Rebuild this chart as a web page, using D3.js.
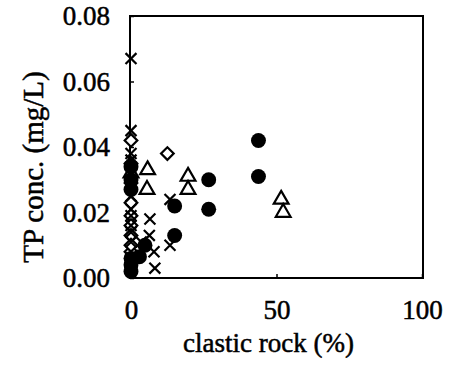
<!DOCTYPE html>
<html>
<head>
<meta charset="utf-8">
<script src="https://cdn.jsdelivr.net/npm/d3@7"></script>
<style>
  body { margin: 0; background: #fff; }
  svg text { font-family: "Liberation Serif", "Times New Roman", serif; fill: #000; stroke: #000; stroke-width: 0.5px; }
</style>
</head>
<body>
<div id="chart"></div>
<script>
// clastic rock (%) vs TP conc. (mg/L), one pair of arrays per marker type
var crossX = [0, 0, 0, 0, 0, 0, 0, 0, 0, 0, 0, 0, 0, 6.5, 6.3, 7.9, 8.2, 13.4, 13.4, 3.5];
var crossY = [0.067, 0.045, 0.038, 0.036, 0.032, 0.028, 0.025, 0.021, 0.016, 0.011, 0.019, 0.006, 0.014, 0.018, 0.013, 0.008, 0.003, 0.024, 0.010, 0.011];

var diamondX = [0, 0, 0, 0, 0, 0, 0, 0, 0, 12.5];
var diamondY = [0.042, 0.029, 0.023, 0.019, 0.016, 0.013, 0.008, 0.035, 0.010, 0.038];

var triangleX = [0, 5.7, 5.5, 19.6, 19.6, 51.6, 52.3];
var triangleY = [0.032, 0.033, 0.027, 0.031, 0.027, 0.024, 0.020];

var circleX = [0, 0, 0, 0, 0, 0, 2.9, 4.8, 15, 15, 26.7, 26.7, 43.8, 43.8];
var circleY = [0.034, 0.030, 0.006, 0.004, 0.002, 0.027, 0.0065, 0.010, 0.022, 0.013, 0.030, 0.021, 0.042, 0.031];

var xTicks = [0, 50, 100];
var yTicks = [0, 0.02, 0.04, 0.06, 0.08];

var margin = {top: 16, right: 29, bottom: 92, left: 130},
    width = 452 - margin.left - margin.right,
    height = 370 - margin.top - margin.bottom;

var svg = d3.select("#chart").append("svg")
    .attr("width", 452)
    .attr("height", 370)
    .append("g")
    .attr("transform", "translate(" + margin.left + "," + margin.top + ")");

var x = d3.scaleLinear().domain([0, 100]).range([1, width - 1]);
var y = d3.scaleLinear().domain([0, 0.08]).range([height, 0]);

// frame
svg.append("rect")
    .attr("width", width)
    .attr("height", height)
    .attr("fill", "none")
    .attr("stroke", "#000")
    .attr("stroke-width", 2);

var xAxis = svg.append("g")
    .attr("transform", "translate(0," + height + ")")
    .call(d3.axisBottom(x).tickValues(xTicks).tickSize(-4).tickPadding(22).tickFormat(d3.format("d")));

var yAxis = svg.append("g")
    .call(d3.axisLeft(y).tickValues(yTicks).tickSize(-4).tickPadding(20).tickFormat(d3.format(".2f")));

[xAxis, yAxis].forEach(function (a) {
    a.select(".domain").remove();
    a.attr("font-family", null);
    a.selectAll("line").attr("stroke", "#000").attr("stroke-width", 1.5);
    a.selectAll("text").style("font-size", "27px");
});

svg.append("text")
    .attr("x", width / 2 - 8)
    .attr("y", height + 74)
    .attr("text-anchor", "middle")
    .style("font-size", "27px")
    .text("clastic rock (%)");

svg.append("text")
    .attr("transform", "translate(-87," + (height / 2 + 20) + ") rotate(-90)")
    .attr("text-anchor", "middle")
    .style("font-size", "29px")
    .text("TP conc. (mg/L)");

// x-shaped marker, drawn as a d3.symbol type
var crossType = {
    draw: function (ctx, size) {
        var r = Math.sqrt(size) / 2;
        ctx.moveTo(-r, -r); ctx.lineTo(r, r);
        ctx.moveTo(r, -r); ctx.lineTo(-r, r);
    }
};

function pts(xs, ys) {
    return xs.map(function (v, i) { return {x: v, y: ys[i]}; });
}

function plot(data, type, size, fill, strokeW, rot) {
    svg.append("g").selectAll("path")
        .data(data)
        .enter().append("path")
        .attr("d", d3.symbol().type(type).size(size))
        .attr("transform", function (d) {
            return "translate(" + x(d.x) + "," + y(d.y) + ")" + (rot ? " rotate(" + rot + ")" : "");
        })
        .attr("fill", fill)
        .attr("stroke", "#000")
        .attr("stroke-width", strokeW);
}

plot(pts(diamondX, diamondY), d3.symbolSquare, 80, "#fff", 2.2, 45);
plot(pts(triangleX, triangleY), d3.symbolTriangle, 95, "#fff", 2.2);
plot(pts(circleX, circleY), d3.symbolCircle, 175, "#000", 0);
plot(pts(crossX, crossY), crossType, 120, "none", 2.2);
</script>
</body>
</html>
